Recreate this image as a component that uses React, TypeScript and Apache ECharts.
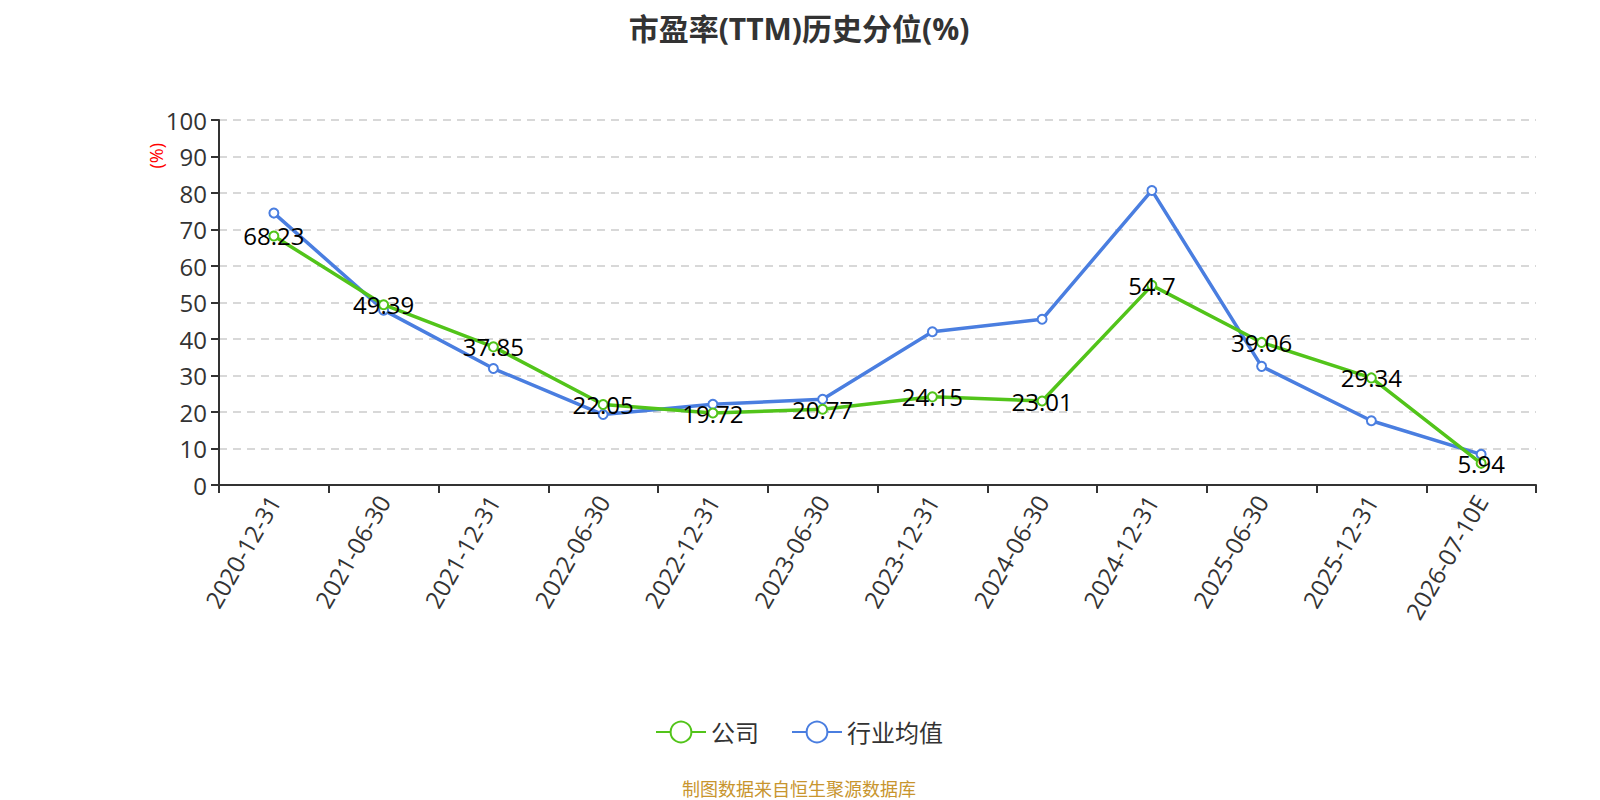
import React, { useEffect, useRef } from "react";
import * as echarts from "echarts";

const categories = [
  "2020-12-31", "2021-06-30", "2021-12-31", "2022-06-30", "2022-12-31", "2023-06-30",
  "2023-12-31", "2024-06-30", "2024-12-31", "2025-06-30", "2025-12-31", "2026-07-10E",
];
const companyValues = [68.23, 49.39, 37.85, 22.05, 19.72, 20.77, 24.15, 23.01, 54.7, 39.06, 29.34, 5.94];
const industryValues = [74.5, 47.9, 31.9, 19.3, 22.1, 23.5, 42.0, 45.4, 80.7, 32.5, 17.6, 8.4];
const seriesNames = ["公司", "行业均值"];
const titleText = "市盈率(TTM)历史分位(%)";
const footerText = "制图数据来自恒生聚源数据库";
const yUnit = "(%)";

const FONT = "'Open Sans', 'Noto Sans CJK SC', sans-serif";

export default function App() {
  const ref = useRef<HTMLDivElement>(null);
  useEffect(() => {
    if (!ref.current) return;
    const chart = echarts.init(ref.current, null, { renderer: "svg" });
    chart.setOption({
      animation: false,
      textStyle: { fontFamily: FONT },
      title: {
        text: titleText,
        left: "center",
        top: 4,
        padding: 0,
        textStyle: { fontSize: 30, lineHeight: 32, fontWeight: "bold", color: "#333", fontFamily: FONT },
      },
      legend: {
        data: seriesNames,
        bottom: 55,
        left: "center",
        itemWidth: 50,
        itemHeight: 26,
        itemGap: 32,
        textStyle: { fontSize: 24, color: "#333", fontFamily: FONT },
      },
      grid: { left: 211, right: 54, top: 112, bottom: 319, containLabel: false },
      xAxis: {
        type: "category",
        data: categories,
        boundaryGap: true,
        axisLine: { lineStyle: { color: "#333", width: 2 } },
        axisTick: { show: true, alignWithLabel: false, length: 8, lineStyle: { color: "#333", width: 2 } },
        axisLabel: { rotate: 60, fontSize: 24, color: "#333", interval: 0, margin: 12, fontFamily: FONT },
      },
      yAxis: {
        type: "value",
        min: 0,
        max: 100,
        interval: 10,
        axisLine: { show: true, lineStyle: { color: "#333", width: 2 } },
        axisTick: { show: true, length: 8, lineStyle: { color: "#333", width: 2 } },
        axisLabel: { fontSize: 24, color: "#333", margin: 12, fontFamily: FONT },
        splitLine: { lineStyle: { color: "#ccc", type: [8, 6], width: 1.5 } },
      },
      graphic: [
        {
          type: "text",
          left: 139,
          top: 135,
          rotation: Math.PI / 2,
          style: { text: yUnit, fill: "#ff0000", fontSize: 18, fontFamily: FONT },
        },
        {
          type: "text",
          left: "center",
          bottom: 6,
          style: { text: footerText, fill: "#c8952e", fontSize: 18, lineHeight: 18, fontFamily: FONT },
        },
      ],
      series: [
        {
          name: seriesNames[0],
          type: "line",
          data: companyValues,
          symbol: "emptyCircle",
          symbolSize: 9,
          itemStyle: { color: "#52c41a", borderWidth: 2 },
          lineStyle: { width: 3.5, color: "#52c41a" },
          label: {
            show: true,
            position: "inside",
            fontSize: 24,
            color: "#000",
            fontFamily: FONT,
          },
          z: 3,
        },
        {
          name: seriesNames[1],
          type: "line",
          data: industryValues,
          symbol: "emptyCircle",
          symbolSize: 9,
          itemStyle: { color: "#4a7ee0", borderWidth: 2 },
          lineStyle: { width: 3.5, color: "#4a7ee0" },
          z: 2,
        },
      ],
    });
    return () => chart.dispose();
  }, []);
  return <div ref={ref} style={{ width: 1582, height: 796 }} />;
}
